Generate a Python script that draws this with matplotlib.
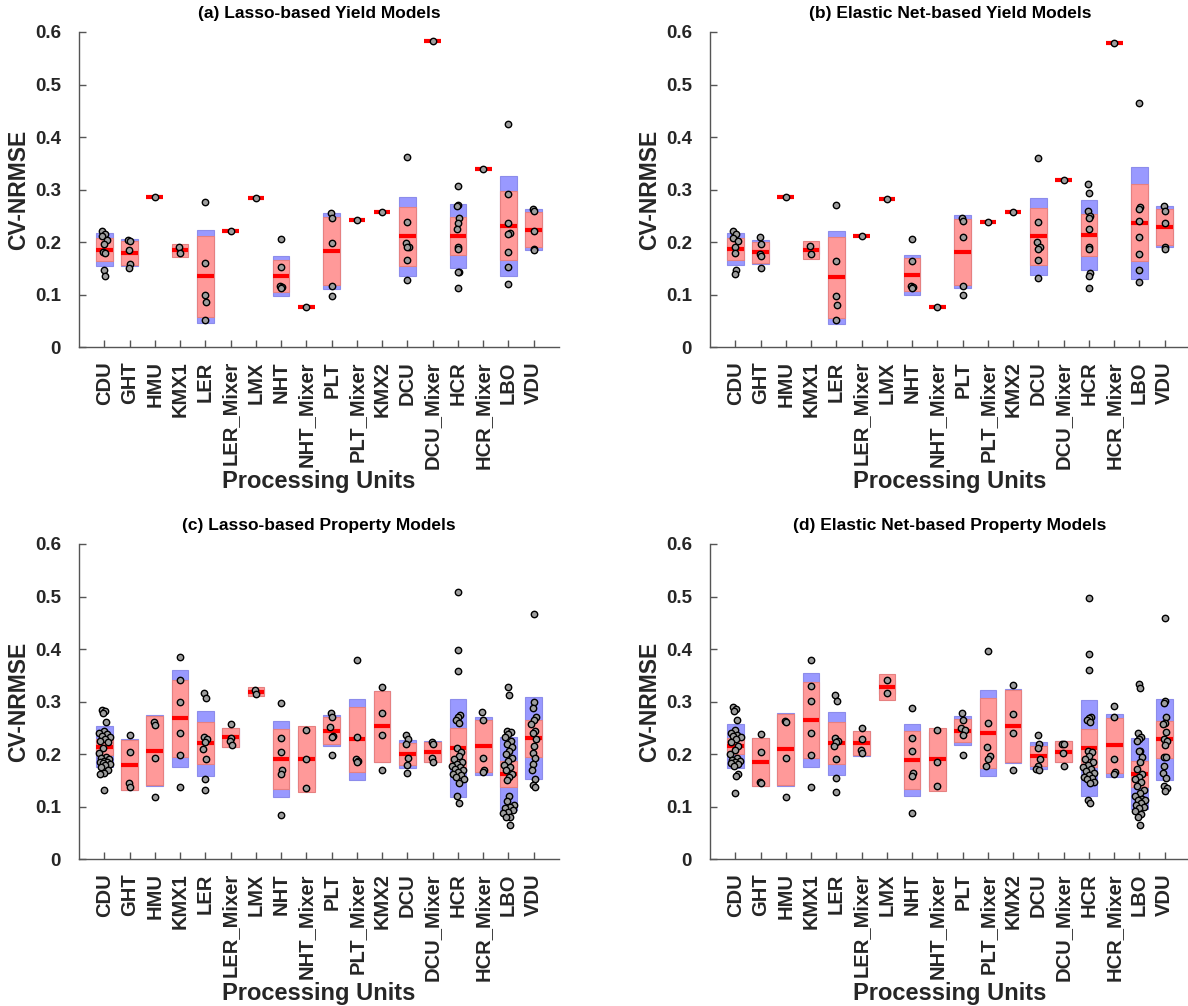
import numpy as np
import matplotlib
matplotlib.use("Agg")
import matplotlib.pyplot as plt
from matplotlib.patches import Rectangle

plt.rcParams['font.family'] = ['Liberation Sans', 'DejaVu Sans']
plt.rcParams['font.weight'] = 'bold'

units = ["CDU", "GHT", "HMU", "KMX1", "LER", "LER_Mixer", "LMX", "NHT", "NHT_Mixer",
         "PLT", "PLT_Mixer", "KMX2", "DCU", "DCU_Mixer", "HCR", "HCR_Mixer", "LBO", "VDU"]
y_ticks = [0, 0.1, 0.2, 0.3, 0.4, 0.5, 0.6]
y_tick_labels = ["0", "0.1", "0.2", "0.3", "0.4", "0.5", "0.6"]

# ---- (a) Lasso-based yield models ----
lasso_yield_mean = [0.186, 0.180, 0.286, 0.185, 0.135, 0.222, 0.284, 0.136, 0.076,
                    0.183, 0.242, 0.257, 0.211, 0.583, 0.212, 0.339, 0.231, 0.224]
lasso_yield_ci = [0.0215, 0.023, 0, 0.0125, 0.077, 0, 0, 0.030, 0,
                  0.0645, 0, 0, 0.056, 0, 0.0365, 0, 0.0655, 0.0335]
lasso_yield_sd = [0.031, 0.0255, 0, 0.007, 0.089, 0, 0, 0.038, 0,
                  0.0725, 0, 0, 0.075, 0, 0.0615, 0, 0.095, 0.0385]
lasso_yield_pts = [
    [0.221, 0.216, 0.211, 0.204, 0.196, 0.182, 0.180, 0.148, 0.135],
    [0.205, 0.202, 0.185, 0.159, 0.151],
    [0.286],
    [0.191, 0.180],
    [0.277, 0.161, 0.100, 0.086, 0.051],
    [0.222],
    [0.284],
    [0.207, 0.153, 0.116, 0.114, 0.113],
    [0.076],
    [0.255, 0.247, 0.199, 0.116, 0.097],
    [0.242],
    [0.257],
    [0.362, 0.238, 0.198, 0.191, 0.190, 0.167, 0.129],
    [0.583],
    [0.306, 0.271, 0.268, 0.247, 0.236, 0.225, 0.191, 0.188, 0.143, 0.143, 0.113],
    [0.339],
    [0.425, 0.292, 0.236, 0.217, 0.216, 0.182, 0.153, 0.121],
    [0.263, 0.260, 0.222, 0.188, 0.185],
]

# ---- (b) Elastic Net-based yield models ----
enet_yield_mean = [0.187, 0.181, 0.286, 0.185, 0.133, 0.212, 0.283, 0.138, 0.076,
                   0.182, 0.238, 0.257, 0.211, 0.319, 0.214, 0.580, 0.237, 0.229]
enet_yield_ci = [0.021, 0.020, 0, 0.0165, 0.0765, 0, 0, 0.0315, 0,
                 0.0625, 0, 0, 0.0545, 0, 0.0395, 0, 0.0735, 0.0345]
enet_yield_sd = [0.0305, 0.0225, 0, 0.008, 0.088, 0, 0, 0.0385, 0,
                 0.070, 0, 0, 0.074, 0, 0.066, 0, 0.1065, 0.039]
enet_yield_pts = [
    [0.221, 0.215, 0.208, 0.202, 0.190, 0.180, 0.148, 0.140],
    [0.209, 0.196, 0.177, 0.174, 0.150],
    [0.286],
    [0.193, 0.177],
    [0.270, 0.164, 0.097, 0.081, 0.051],
    [0.212],
    [0.283],
    [0.206, 0.164, 0.116, 0.114, 0.113],
    [0.076],
    [0.246, 0.241, 0.209, 0.116, 0.100],
    [0.238],
    [0.257],
    [0.361, 0.238, 0.201, 0.190, 0.187, 0.166, 0.131],
    [0.319],
    [0.310, 0.294, 0.260, 0.250, 0.246, 0.225, 0.190, 0.187, 0.142, 0.135, 0.113],
    [0.580],
    [0.465, 0.267, 0.263, 0.241, 0.209, 0.177, 0.148, 0.124],
    [0.268, 0.260, 0.236, 0.190, 0.187],
]

# ---- (c) Lasso-based property models ----
lasso_prop_mean = [0.214, 0.180, 0.207, 0.268, 0.221, 0.232, 0.319, 0.191, 0.191,
                   0.245, 0.228, 0.253, 0.200, 0.205, 0.212, 0.215, 0.163, 0.230]
lasso_prop_ci = [0.015, 0.0475, 0.0665, 0.074, 0.040, 0.0175, 0.008, 0.057, 0.0635,
                 0.025, 0.0615, 0.067, 0.021, 0.019, 0.037, 0.0495, 0.0245, 0.036]
lasso_prop_sd = [0.039, 0.048, 0.068, 0.0925, 0.062, 0.018, 0.005, 0.072, 0.056,
                 0.029, 0.077, 0.068, 0.027, 0.0195, 0.0925, 0.0555, 0.069, 0.078]
lasso_prop_pts = [
    [0.284, 0.282, 0.279, 0.261, 0.245, 0.240, 0.238, 0.235, 0.232, 0.228, 0.226, 0.224,
     0.212, 0.203, 0.195, 0.192, 0.190, 0.188, 0.186, 0.185, 0.183, 0.182, 0.180, 0.176,
     0.170, 0.165, 0.162, 0.132],
    [0.236, 0.204, 0.146, 0.137],
    [0.261, 0.256, 0.193, 0.119],
    [0.385, 0.342, 0.300, 0.241, 0.198, 0.138],
    [0.316, 0.306, 0.233, 0.228, 0.223, 0.209, 0.191, 0.153, 0.132],
    [0.257, 0.230, 0.226, 0.217],
    [0.322, 0.315],
    [0.297, 0.230, 0.204, 0.170, 0.162, 0.084],
    [0.247, 0.191, 0.135],
    [0.278, 0.270, 0.252, 0.235, 0.233, 0.198],
    [0.380, 0.233, 0.190, 0.187, 0.185],
    [0.327, 0.278, 0.236, 0.169],
    [0.236, 0.228, 0.220, 0.193, 0.179, 0.164],
    [0.223, 0.220, 0.192, 0.185],
    [0.508, 0.398, 0.358, 0.274, 0.270, 0.265, 0.260, 0.212, 0.205, 0.196, 0.190, 0.185,
     0.182, 0.178, 0.175, 0.172, 0.170, 0.167, 0.163, 0.160, 0.157, 0.153, 0.145, 0.121,
     0.108],
    [0.281, 0.265, 0.193, 0.170, 0.167],
    [0.327, 0.313, 0.244, 0.242, 0.238, 0.233, 0.226, 0.220, 0.213, 0.206, 0.200, 0.193,
     0.187, 0.180, 0.175, 0.170, 0.163, 0.157, 0.150, 0.121, 0.110, 0.104, 0.100, 0.097,
     0.094, 0.090, 0.088, 0.080, 0.080, 0.066],
    [0.467, 0.300, 0.287, 0.270, 0.265, 0.258, 0.245, 0.240, 0.228, 0.215, 0.203, 0.193,
     0.182, 0.170, 0.152, 0.142, 0.138],
]

# ---- (d) Elastic Net-based property models ----
enet_prop_mean = [0.215, 0.185, 0.209, 0.265, 0.221, 0.221, 0.328, 0.189, 0.190,
                  0.245, 0.240, 0.254, 0.197, 0.205, 0.212, 0.217, 0.163, 0.228]
enet_prop_ci = [0.0155, 0.045, 0.068, 0.072, 0.0395, 0.023, 0.0255, 0.0545, 0.060,
                0.0215, 0.066, 0.0685, 0.019, 0.0195, 0.036, 0.0525, 0.0245, 0.036]
enet_prop_sd = [0.042, 0.046, 0.069, 0.0895, 0.060, 0.0235, 0.013, 0.068, 0.053,
                0.027, 0.082, 0.070, 0.026, 0.020, 0.0915, 0.060, 0.068, 0.0775]
enet_prop_pts = [
    [0.289, 0.286, 0.283, 0.265, 0.247, 0.241, 0.237, 0.235, 0.232, 0.228, 0.224, 0.215,
     0.208, 0.200, 0.192, 0.189, 0.187, 0.185, 0.183, 0.181, 0.178, 0.162, 0.158, 0.127],
    [0.239, 0.204, 0.148, 0.146],
    [0.263, 0.262, 0.193, 0.119],
    [0.380, 0.329, 0.302, 0.241, 0.198, 0.138],
    [0.313, 0.302, 0.230, 0.225, 0.223, 0.215, 0.191, 0.155, 0.129],
    [0.249, 0.228, 0.208, 0.202],
    [0.342, 0.316],
    [0.287, 0.230, 0.207, 0.164, 0.159, 0.089],
    [0.247, 0.185, 0.140],
    [0.278, 0.265, 0.250, 0.247, 0.236, 0.198],
    [0.396, 0.260, 0.214, 0.196, 0.191, 0.178],
    [0.332, 0.276, 0.241, 0.169],
    [0.236, 0.220, 0.212, 0.190, 0.178, 0.172, 0.169],
    [0.220, 0.220, 0.202, 0.178],
    [0.497, 0.390, 0.361, 0.271, 0.268, 0.265, 0.261, 0.207, 0.204, 0.196, 0.190, 0.186,
     0.180, 0.176, 0.172, 0.168, 0.165, 0.160, 0.157, 0.155, 0.152, 0.148, 0.145, 0.113,
     0.108],
    [0.292, 0.270, 0.191, 0.166, 0.163],
    [0.333, 0.326, 0.240, 0.232, 0.228, 0.226, 0.206, 0.206, 0.195, 0.185, 0.172, 0.162,
     0.157, 0.152, 0.148, 0.140, 0.132, 0.127, 0.120, 0.115, 0.112, 0.112, 0.108, 0.104,
     0.100, 0.097, 0.092, 0.087, 0.080, 0.066],
    [0.460, 0.301, 0.297, 0.270, 0.260, 0.257, 0.242, 0.228, 0.226, 0.218, 0.195, 0.194,
     0.178, 0.165, 0.155, 0.140, 0.135, 0.130],
]

panels = [
    ("(a) Lasso-based Yield Models", lasso_yield_mean, lasso_yield_ci, lasso_yield_sd, lasso_yield_pts),
    ("(b) Elastic Net-based Yield Models", enet_yield_mean, enet_yield_ci, enet_yield_sd, enet_yield_pts),
    ("(c) Lasso-based Property Models", lasso_prop_mean, lasso_prop_ci, lasso_prop_sd, lasso_prop_pts),
    ("(d) Elastic Net-based Property Models", enet_prop_mean, enet_prop_ci, enet_prop_sd, enet_prop_pts),
]

SEM_COLOR = (1.0, 0.6, 0.6)
SD_COLOR = (0.6, 0.6, 1.0)
AX_COLOR = "#555555"
TXT_COLOR = "#262626"
BOX_W = 0.66


def jitter_offsets(vals):
    """Deterministic density-scaled horizontal spread for the raw points."""
    vals = np.asarray(vals, dtype=float)
    offs = np.zeros(len(vals))
    for k, v in enumerate(vals):
        nb = np.sum(np.abs(vals - v) < 0.02) - 1
        amp = min(0.24, 0.035 * nb)
        phase = ((k * 0.6180339) % 1.0) - 0.5
        offs[k] = 2 * amp * phase
    return offs


fig = plt.figure(figsize=(11.88, 10.06), dpi=100)
W, H = 1188.0, 1006.0
positions = [(79, 32), (710, 32), (79, 544), (710, 544)]
ax_w, ax_h = 480, 315.3

for (title, means, cis, sds, pts), (px, py) in zip(panels, positions):
    ax = fig.add_axes([px / W, 1 - (py + ax_h) / H, ax_w / W, ax_h / H])
    xs = np.arange(1, len(units) + 1)
    for x, m, ci, sd, p in zip(xs, means, cis, sds, pts):
        if sd > 0:
            ax.add_patch(Rectangle((x - BOX_W / 2, m - sd), BOX_W, 2 * sd,
                                   facecolor=SD_COLOR, edgecolor=(0.55, 0.55, 0.92),
                                   lw=0.8, zorder=1))
        if ci > 0:
            ax.add_patch(Rectangle((x - BOX_W / 2, m - ci), BOX_W, 2 * ci,
                                   facecolor=SEM_COLOR, edgecolor=(0.9, 0.5, 0.5),
                                   lw=0.8, zorder=2))
        ax.plot([x - BOX_W / 2, x + BOX_W / 2], [m, m], color="red", lw=3.0,
                solid_capstyle="butt", zorder=3)
        ax.plot(x + jitter_offsets(p), p, "o", ms=4.6, mfc=(0.62, 0.62, 0.62),
                mec="black", mew=1.0, zorder=4, clip_on=False)

    ax.set_xlim(0, 19)
    ax.set_ylim(0, 0.6)
    ax.set_xticks(xs)
    ax.set_xticklabels(units, rotation=90, fontsize=14.5, fontweight="bold",
                       color=TXT_COLOR)
    ax.set_yticks(y_ticks)
    ax.set_yticklabels(y_tick_labels, fontsize=13.5, fontweight="bold", color=TXT_COLOR)
    for s in ("top", "right"):
        ax.spines[s].set_visible(False)
    for s in ("left", "bottom"):
        ax.spines[s].set_color(AX_COLOR)
        ax.spines[s].set_linewidth(1.0)
    ax.tick_params(direction="in", length=5, width=1, color=AX_COLOR)
    ax.tick_params(axis="y", pad=13)
    ax.tick_params(axis="x", pad=10)
    ax.set_title(title, fontsize=12.5, fontweight="bold", color="black", pad=10)
    ax.set_ylabel("CV-NRMSE", fontsize=16.5, fontweight="bold", color=TXT_COLOR, va="center")
    ax.yaxis.set_label_coords(-60 / ax_w, 0.5)
    ax.set_xlabel("Processing Units", fontsize=17, fontweight="bold", color=TXT_COLOR,
                  va="center")
    ax.xaxis.set_label_coords(0.5, -134 / ax_h)

fig.savefig("out.png", dpi=100)
